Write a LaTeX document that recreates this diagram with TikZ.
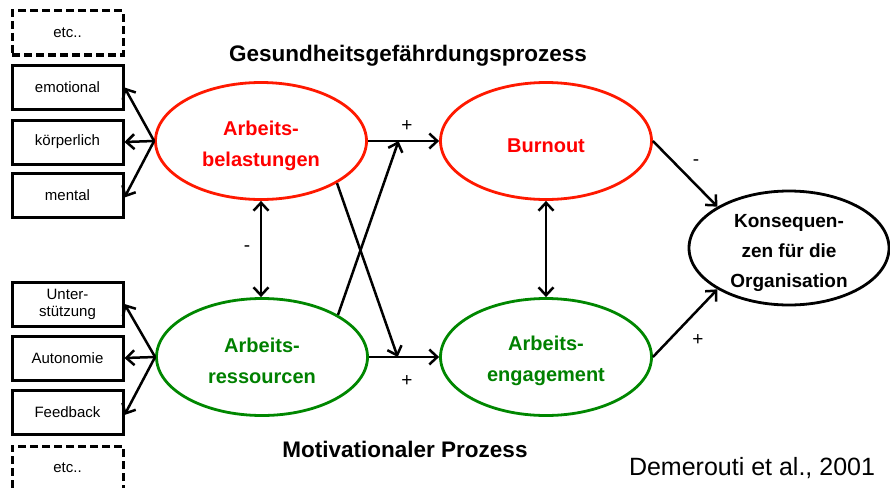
\documentclass[tikz,border=0pt]{standalone}
\usepackage{fontspec}
\setmainfont{Liberation Sans}
\usetikzlibrary{shapes.geometric,arrows.meta,calc}
\definecolor{loadred}{RGB}{255,25,0}
\definecolor{loadtext}{RGB}{255,0,0}
\definecolor{resgreen}{RGB}{0,135,0}
\definecolor{restext}{RGB}{0,128,0}
\begin{document}
\begin{tikzpicture}[x=1pt,y=-1pt,
  facet/.style={draw,line width=3pt,minimum width=111pt,minimum height=44pt,
    inner sep=0pt,align=center,font=\fontsize{15}{17}\selectfont},
  facetmore/.style={facet,dash pattern=on 8pt off 4pt},
  factor/.style={ellipse,draw,line width=2.8pt,minimum width=211pt,minimum height=117pt,inner sep=0pt},
  factortext/.style={align=center,font=\fontsize{20}{31}\selectfont\bfseries,inner sep=0pt},
  barb/.tip={Straight Barb[length=8pt,width=15pt,line width=2.5pt]},
  link/.style={line width=2.5pt,-barb},
  both/.style={line width=2.5pt,barb-barb},
  sign/.style={font=\fontsize{19}{21}\selectfont,inner sep=0pt},
  heading/.style={font=\fontsize{22.5}{26}\selectfont\bfseries,inner sep=0pt}]
\useasboundingbox (0,0) rectangle (890,487);

% left facets of the job demands
\node[facetmore] (etcA) at (67.5,33) {etc..};
\node[facet] (emo) at (67.5,87.5) {emotional};
\node[facet] (body) at (67.5,142) {körperlich};
\node[facet] (mind) at (67.5,195.5) {mental};
% left facets of the job resources
\node[facet] (supp) at (67.5,304) {Unter-\\stützung};
\node[facet] (auto) at (67.5,358) {Autonomie};
\node[facet] (feed) at (67.5,412) {Feedback};
\node[facetmore] (etcB) at (67.5,468) {etc..};

% latent factors
\node[factor,draw=loadred] (bel) at (261,141) {};
\node[factor,draw=resgreen] (res) at (262,357) {};
\node[factor,draw=loadred] (burn) at (546,141) {};
\node[factor,draw=resgreen] (eng) at (546,357) {};
\node[ellipse,draw,line width=2.8pt,minimum width=200pt,minimum height=114pt,inner sep=0pt] (kons) at (789,248) {};

\node[factortext,text=loadtext] (belT) at ([yshift=-5pt]bel.center) {Arbeits-\\belastungen};
\node[factortext,text=restext] (resT) at ([yshift=-4pt]res.center) {Arbeits-\\ressourcen};
\node[factortext,text=loadtext] (burnT) at ([yshift=-5pt]burn.center) {Burnout};
\node[factortext,text=restext] (engT) at ([yshift=-4pt]eng.center) {Arbeits-\\engagement};
\node[factortext,font=\fontsize{19}{30}\selectfont\bfseries] (konsT) at ([yshift=-5pt]kons.center) {Konsequen-\\zen für die\\Organisation};

% headings and source
\node[heading] (h1) at (408,56) {Gesundheitsgefährdungsprozess};
\node[heading] (h2) at (405,449) {Motivationaler Prozess};
\node[font=\fontsize{25}{30}\selectfont,inner sep=0pt] (src) at (752,468) {Demerouti et al., 2001};

% facets
\draw[link] (bel.west) -- (emo.east);
\draw[link] (bel.west) -- (body.east);
\draw[link] (bel.west) -- ([yshift=-2pt]mind.east);
\draw[link] (res.west) -- (supp.east);
\draw[link] (res.west) -- (auto.east);
\draw[link] (res.west) -- ([yshift=-3pt]feed.east);

% paths between the factors
\coordinate (upMeet) at ($(bel.east)!0.43!(burn.west)$);
\coordinate (loMeet) at ($(res.east)!0.41!(eng.west)$);
\draw[link] (bel.east) -- (burn.west);
\draw[link] (res.east) -- (eng.west);
\draw[link] (bel.-29) -- (loMeet);
\draw[link] (res.29) -- (upMeet);
\draw[both] (bel.south) -- (bel.south |- res.north);
\draw[both] (burn.south) -- (eng.north);
\draw[link] (burn.east) -- (kons.150);
\draw[link] (eng.east) -- (kons.210);

% signs
\node[sign] (s1) at (247,249) {-};
\node[sign] (s2) at (407,126) {+};
\node[sign] (s3) at (407,381) {+};
\node[sign] (s4) at (696,163) {-};
\node[sign] (s5) at (698,340) {+};
\end{tikzpicture}
\end{document}
